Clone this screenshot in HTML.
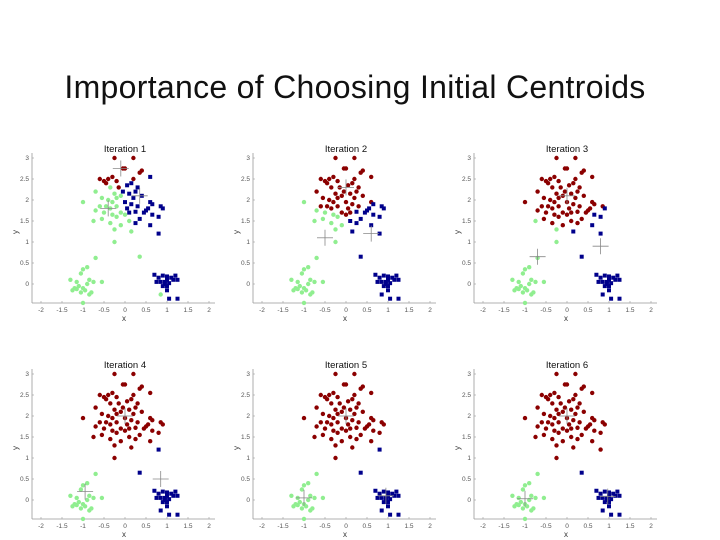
<!DOCTYPE html>
<html><head><meta charset="utf-8"><style>
body{margin:0;background:#fff;width:720px;height:540px;overflow:hidden;font-family:"Liberation Sans",sans-serif}
#title{position:absolute;left:0;width:710px;top:69px;text-align:center;font-size:32px;letter-spacing:0.3px;color:#111}
svg{position:absolute;left:0;top:0}
</style></head><body>
<div id="title">Importance of Choosing Initial Centroids</div>
<svg id="c" width="720" height="540"></svg>
<script>
const redPts=[[-0.25,3],[0.2,3],[-0.05,2.75],[0,2.75],[-0.6,2.5],[-0.5,2.45],[-0.4,2.5],[-0.45,2.4],[-0.3,2.55],[-0.2,2.45],[0.35,2.65],[0.4,2.7],[0.6,2.55],[0.2,2.5],[0.15,2.4],[-0.15,2.3],[-0.35,2.3],[0.05,2.35],[0.3,2.3],[-0.05,2.2],[-0.25,2.15],[-0.7,2.2],[-0.55,2.05],[-0.4,2.0],[-0.3,1.95],[-0.2,2.05],[-0.1,2.1],[0.1,2.15],[0.2,2.05],[0.25,2.2],[0.4,2.1],[-0.45,1.85],[-0.35,1.8],[-0.2,1.85],[0,1.95],[0.05,1.8],[0.15,1.9],[0.3,1.85],[0.6,1.95],[0.65,1.9],[0.85,1.85],[0.9,1.8],[-1.0,1.95],[-0.7,1.75],[-0.6,1.85],[-0.5,1.7],[-0.3,1.65],[-0.1,1.7],[0.0,1.65],[0.1,1.7],[0.25,1.72],[0.45,1.7],[0.5,1.75],[0.55,1.8],[0.8,1.6],[0.65,1.65],[-0.75,1.5],[-0.55,1.55],[-0.35,1.45],[-0.2,1.6],[0.1,1.5],[0.25,1.45],[0.35,1.55],[-0.1,1.4],[-0.25,1.3],[0.15,1.25],[-0.25,1.0],[0.6,1.4],[0.8,1.2],[0.35,0.65]];
const greenPts=[[-0.7,0.62],[-1,0.35],[-0.9,0.4],[-1.05,0.25],[-1.3,0.1],[-1.15,0.05],[-1.1,-0.05],[-1.2,-0.1],[-1.0,-0.1],[-0.9,0.0],[-0.85,0.1],[-0.95,-0.15],[-1.05,-0.2],[-0.8,-0.2],[-0.75,0.05],[-0.55,0.05],[-1.0,-0.45],[-1.15,-0.12],[-0.85,-0.25],[-1.25,-0.15]];
const bluePts=[[0.7,0.22],[0.8,0.15],[0.9,0.2],[1.0,0.18],[1.1,0.15],[1.2,0.2],[1.25,0.1],[0.75,0.05],[0.85,0.05],[0.95,0.05],[1.0,0.1],[1.05,0.02],[1.15,0.1],[0.9,-0.05],[1.0,-0.05],[0.85,-0.25],[1.0,-0.15],[1.05,-0.35],[1.25,-0.35],[0.95,0.0]];
const iterTitles=["Iteration 1","Iteration 2","Iteration 3","Iteration 4","Iteration 5","Iteration 6"];
const centRed=[[-0.1,2.75],[0.0,2.3],[0.0,2.1],[0.0,2.0],[0.0,2.0],[0.0,2.0]];
const centGreen=[[-0.4,1.8],[-0.5,1.1],[-0.7,0.65],[-0.95,0.2],[-1.0,0.05],[-1.0,0.03]];
const centBlue=[[0.35,2.1],[0.6,1.2],[0.8,0.9],[0.85,0.5],[0.95,0.1],[0.97,0.08]];
const xTicks=[-2,-1.5,-1,-0.5,0,0.5,1,1.5,2];
const xTickLabels=["-2","-1.5","-1","-0.5","0","0.5","1","1.5","2"];
const yTicks=[0,0.5,1,1.5,2,2.5,3];
const yTickLabels=["0","0.5","1","1.5","2","2.5","3"];
const NS="http://www.w3.org/2000/svg",svg=document.getElementById('c');
function mk(t,a,p){const e=document.createElementNS(NS,t);for(const k in a)e.setAttribute(k,a[k]);(p||svg).appendChild(e);return e;}
const allPts=redPts.concat(greenPts,bluePts);
const cols=["#8b0000","#90ee90","#00008b"];
for(let i=0;i<6;i++){
  const ox=(i%3)*221,oy=Math.floor(i/3)*216;
  const sx=v=>ox+125+v*42, sy=v=>oy+284-v*42;
  const g=mk('g',{});
  
  
  const l1=mk('line',{x1:ox+32,y1:oy+303,x2:ox+215,y2:oy+303,stroke:'#999','stroke-width':0.8},g);
  
  const l2=mk('line',{x1:ox+32,y1:oy+153,x2:ox+32,y2:oy+303,stroke:'#999','stroke-width':0.8},g);
  
  xTicks.forEach((v,k)=>{mk('line',{x1:sx(v),x2:sx(v),y1:oy+303,y2:oy+301,stroke:'#999','stroke-width':0.6},g);
    const t=mk('text',{x:sx(v),y:oy+312,'font-size':6.5,fill:'#555','text-anchor':'middle'},g);t.textContent=xTickLabels[k];
    });
  yTicks.forEach((v,k)=>{mk('line',{x1:ox+32,x2:ox+34,y1:sy(v),y2:sy(v),stroke:'#999','stroke-width':0.6},g);
    const t=mk('text',{x:ox+29,y:sy(v)+2,'font-size':6.5,fill:'#555','text-anchor':'end'},g);t.textContent=yTickLabels[k];
    });
  const xl=mk('text',{x:ox+124,y:oy+321,'font-size':8,fill:'#333','text-anchor':'middle'},g);xl.textContent='x';
  
  const yl=mk('text',{x:ox+18,y:oy+232,'font-size':8,fill:'#333','text-anchor':'middle',transform:`rotate(-90 ${ox+18} ${oy+232})`},g);yl.textContent='y';
  
  const tt=mk('text',{x:ox+125,y:oy+152,'font-size':9.5,fill:'#111','text-anchor':'middle'},g);tt.textContent=iterTitles[i];
  
  const cs=[centRed[i],centGreen[i],centBlue[i]];
  allPts.forEach(p=>{let b=0,bd=1e9;cs.forEach((c,k)=>{const d=(p[0]-c[0])**2+(p[1]-c[1])**2;if(d<bd){bd=d;b=k;}});
    let m;
    if(b===2)m=mk('rect',{x:sx(p[0])-2,y:sy(p[1])-2,width:4,height:4,fill:cols[b]},g);
    else m=mk('circle',{cx:sx(p[0]),cy:sy(p[1]),r:2.2,fill:cols[b]},g);
    });
  cs.forEach(c=>{const cg=mk('g',{stroke:'#888','stroke-width':0.8},g);
    
    mk('line',{x1:sx(c[0])-8,x2:sx(c[0])+8,y1:sy(c[1]),y2:sy(c[1])},cg);
    mk('line',{x1:sx(c[0]),x2:sx(c[0]),y1:sy(c[1])-8,y2:sy(c[1])+8},cg);});
}
</script>
</body></html>
